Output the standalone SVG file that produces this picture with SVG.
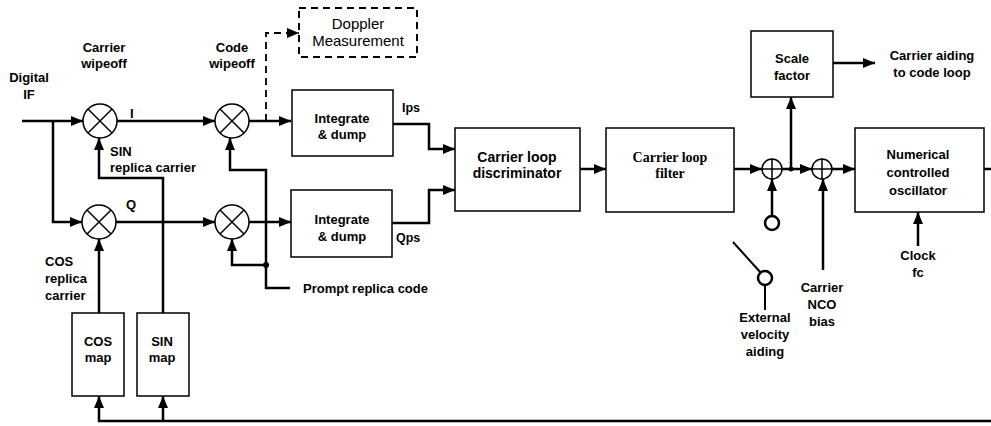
<svg xmlns="http://www.w3.org/2000/svg" width="991" height="426" viewBox="0 0 991 426">
<defs>
<marker id="ah" markerUnits="userSpaceOnUse" markerWidth="13" markerHeight="11" refX="12" refY="5" orient="auto"><path d="M0,0 L12,5 L0,10 z" fill="#000"/></marker>
<style>
.box{fill:#fff;stroke:#000;stroke-width:1.5}
.dbox{fill:#fff;stroke:#000;stroke-width:2;stroke-dasharray:7,5}
.ln{fill:none;stroke:#000;stroke-width:2.5}
.dl{fill:none;stroke:#000;stroke-width:1.8;stroke-dasharray:7,5}
.thin{fill:none;stroke:#000;stroke-width:1.5}
.mix{fill:#fff;stroke:#000;stroke-width:1.5}
text{font-family:"Liberation Sans",Arial,sans-serif;font-size:13px;font-weight:bold;fill:#000}
.c{text-anchor:middle}
.reg{font-weight:normal;font-size:15px}
.ser{font-family:"Liberation Serif","Times New Roman",serif;font-size:14px}
.big{font-size:14px}
.sm{font-size:12.5px}
</style>
</defs>
<rect width="991" height="426" fill="#fff"/>

<g id="connectors">
<path class="ln" d="M22,121 H83" marker-end="url(#ah)"/>
<path class="ln" d="M53,121 V222 H82" marker-end="url(#ah)"/>
<path class="ln" d="M117,121 H215" marker-end="url(#ah)"/>
<path class="ln" d="M249,121 H291" marker-end="url(#ah)"/>
<path class="dl" d="M266,121 V33 H299" marker-end="url(#ah)"/>
<path class="ln" d="M163,313 V178 H99 V138" marker-end="url(#ah)"/>
<path class="ln" d="M99,313 V239" marker-end="url(#ah)"/>
<path class="ln" d="M116,222 H215" marker-end="url(#ah)"/>
<path class="ln" d="M249,222 H291" marker-end="url(#ah)"/>
<path class="ln" d="M290,288 H266 V170 H230 V138" marker-end="url(#ah)"/>
<path class="ln" d="M266,265 H232 V239" marker-end="url(#ah)"/>
<circle cx="266" cy="265" r="3" fill="#000"/>
<path class="ln" d="M393,124 H429 V149 H455" marker-end="url(#ah)"/>
<path class="ln" d="M392,223 H429 V190 H455" marker-end="url(#ah)"/>
<path class="ln" d="M580,169 H606" marker-end="url(#ah)"/>
<path class="ln" d="M734,169 H762" marker-end="url(#ah)"/>
<path class="ln" d="M782,169 H812" marker-end="url(#ah)"/>
<path class="ln" d="M832,169 H855" marker-end="url(#ah)"/>
<path class="ln" d="M791,169 V97" marker-end="url(#ah)"/>
<circle cx="791" cy="169" r="2.5" fill="#000"/>
<path class="ln" d="M833,63 H875" marker-end="url(#ah)"/>
<path class="ln" d="M772,216 V179" marker-end="url(#ah)"/>
<path class="ln" d="M823,270 V179" marker-end="url(#ah)"/>
<path class="ln" d="M918,246 V212" marker-end="url(#ah)"/>
<path class="ln" d="M984,169 H991"/>
<path class="ln" d="M991,421 H99 V396" marker-end="url(#ah)"/>
<path class="ln" d="M163,421 V396" marker-end="url(#ah)"/>
<path class="thin" d="M733,242 L761,273" style="stroke-width:2"/>
<path class="thin" d="M765,285 V310" style="stroke-width:2"/>
</g>

<g id="mixer-i-carrier"><circle class="mix" cx="100" cy="121" r="17"/><path class="thin" d="M88,109 L112,133 M112,109 L88,133"/></g>
<g id="mixer-q-carrier"><circle class="mix" cx="99" cy="222" r="17"/><path class="thin" d="M87,210 L111,234 M111,210 L87,234"/></g>
<g id="mixer-i-code"><circle class="mix" cx="232" cy="121" r="17"/><path class="thin" d="M220,109 L244,133 M244,109 L220,133"/></g>
<g id="mixer-q-code"><circle class="mix" cx="232" cy="222" r="17"/><path class="thin" d="M220,210 L244,234 M244,210 L220,234"/></g>

<g id="sum1"><circle class="mix" cx="772" cy="169" r="10"/><path class="thin" d="M762,169 H782 M772,159 V179"/></g>
<g id="sum2"><circle class="mix" cx="822" cy="169" r="10"/><path class="thin" d="M812,169 H832 M822,159 V179"/></g>
<g id="switch-contact"><circle class="mix" cx="772" cy="223" r="7" style="stroke-width:2.5"/></g>
<g id="switch-pivot"><circle class="mix" cx="765" cy="278" r="7" style="stroke-width:2.5"/></g>

<g id="doppler"><rect class="dbox" x="299" y="8" width="118" height="49"/><text class="c reg" x="358" y="29">Doppler</text><text class="c reg" x="358" y="46">Measurement</text></g>
<g id="intdump-i"><rect class="box" x="292" y="90" width="101" height="66"/><text class="c" x="342" y="123">Integrate</text><text class="c" x="342" y="139">&amp; dump</text></g>
<g id="intdump-q"><rect class="box" x="291" y="190" width="101" height="67"/><text class="c" x="342" y="224">Integrate</text><text class="c" x="342" y="241">&amp; dump</text></g>
<g id="discriminator"><rect class="box" x="455" y="128" width="125" height="83"/><text class="c big" x="517" y="162">Carrier loop</text><text class="c big" x="517" y="178">discriminator</text></g>
<g id="filter"><rect class="box" x="606" y="128" width="128" height="84"/><text class="c ser" x="670" y="162">Carrier loop</text><text class="c ser" x="670" y="178">filter</text></g>
<g id="scale"><rect class="box" x="751" y="31" width="82" height="66"/><text class="c" x="792" y="63">Scale</text><text class="c" x="792" y="80">factor</text></g>
<g id="nco"><rect class="box" x="855" y="128" width="129" height="84"/><text class="c" x="918" y="159">Numerical</text><text class="c" x="918" y="177">controlled</text><text class="c" x="918" y="195">oscillator</text></g>
<g id="cosmap"><rect class="box" x="72" y="313" width="52" height="83"/><text class="c" x="98" y="346">COS</text><text class="c" x="98" y="362">map</text></g>
<g id="sinmap"><rect class="box" x="137" y="313" width="52" height="83"/><text class="c" x="162" y="346">SIN</text><text class="c" x="162" y="362">map</text></g>

<g id="labels">
<text class="c" x="29" y="82">Digital</text><text class="c" x="29" y="99">IF</text>
<text class="c" x="104" y="52">Carrier</text><text class="c" x="104" y="68">wipeoff</text>
<text class="c" x="232" y="52">Code</text><text class="c" x="232" y="68">wipeoff</text>
<text x="130" y="118">I</text>
<text x="126" y="209">Q</text>
<text x="110" y="156">SIN</text><text x="110" y="172">replica carrier</text>
<text x="45" y="266">COS</text><text x="45" y="283">replica</text><text x="45" y="300">carrier</text>
<text class="sm" x="402" y="112">Ips</text>
<text class="sm" x="396" y="242">Qps</text>
<text x="303" y="293">Prompt replica code</text>
<text class="c" x="932" y="60">Carrier aiding</text><text class="c" x="932" y="77">to code loop</text>
<text class="c" x="918" y="260">Clock</text><text class="c" x="918" y="277">fc</text>
<text class="c" x="765" y="322">External</text><text class="c" x="765" y="339">velocity</text><text class="c" x="765" y="356">aiding</text>
<text class="c" x="822" y="292">Carrier</text><text class="c" x="822" y="309">NCO</text><text class="c" x="822" y="326">bias</text>
</g>
</svg>
